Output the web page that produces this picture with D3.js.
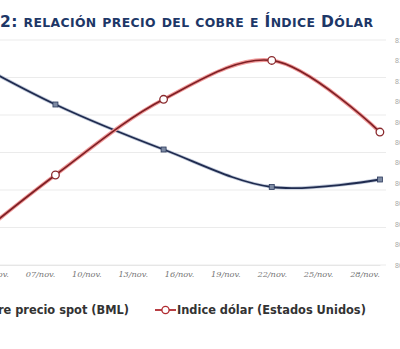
<!DOCTYPE html>
<html>
<head>
<meta charset="utf-8">
<script src="https://cdnjs.cloudflare.com/ajax/libs/d3/7.8.5/d3.min.js"></script>
<style>
  html, body { margin: 0; padding: 0; background: #fff; }
  svg { display: block; }
</style>
</head>
<body>
<div id="chart"></div>
<script>
// Weekly observations (Friday closes)
const fechas = ["2013-11-01", "2013-11-08", "2013-11-15", "2013-11-22", "2013-11-29"];
const cobre = [3.39, 3.314, 3.254, 3.204, 3.214];      // US$/lb, left axis
const dolar = [80.12, 80.54, 80.91, 81.10, 80.75];     // index, right axis

// Axis ticks
const fechasEje = ["2013-11-04", "2013-11-07", "2013-11-10", "2013-11-13", "2013-11-16",
                   "2013-11-19", "2013-11-22", "2013-11-25", "2013-11-28"];
const etiquetasFecha = ["04/nov.", "07/nov.", "10/nov.", "13/nov.", "16/nov.",
                        "19/nov.", "22/nov.", "25/nov.", "28/nov."];
const ticksCobre = [3.10, 3.15, 3.20, 3.25, 3.30, 3.35, 3.40];
const ticksDolar = [80.1, 80.2, 80.3, 80.4, 80.5, 80.6, 80.7, 80.8, 80.9, 81.0, 81.1, 81.2];

const titulo = "2: relación precio del cobre e Índice Dólar";
const serieCobre = "Cobre precio spot (BML)";
const serieDolar = "Indice dólar (Estados Unidos)";

const W = 400, H = 349;
const plot = { left: -52.7, right: 379.9, top: 40, bottom: 265, gridRight: 386 };

const parse = d3.timeParse("%Y-%m-%d");
const dias = fechas.map(parse);

const svg = d3.select("#chart").append("svg")
  .attr("width", W).attr("height", H)
  .style("font-family", "'DejaVu Sans', Verdana, sans-serif");

svg.append("rect").attr("width", W).attr("height", H).attr("fill", "#fff");

const x = d3.scaleTime()
  .domain([parse("2013-11-01"), parse("2013-11-29")])
  .range([plot.left, plot.right]);
const yL = d3.scaleLinear().domain([3.10, 3.40]).range([plot.bottom, plot.top]);
const yR = d3.scaleLinear().domain([80.1, 81.2]).range([plot.bottom, plot.top]);

// Title in small caps
const tTitle = svg.append("text")
  .attr("x", 0).attr("y", 27)
  .attr("fill", "#1d3767")
  .attr("font-weight", "bold");
{
  let runs = [];
  for (const ch of titulo) {
    const big = ch !== ch.toLowerCase() || /[0-9:]/.test(ch) || ch === " ";
    const last = runs[runs.length - 1];
    if (last && last.big === big) last.t += ch; else runs.push({ big, t: ch });
  }
  runs.forEach(r => tTitle.append("tspan")
    .attr("font-size", r.big ? 15.5 : 12.4)
    .text(r.big ? r.t : r.t.toUpperCase()));
}
// fit the title between the left edge and x = 373
{
  const w = tTitle.node().getComputedTextLength();
  if (Math.abs(w - 373) < 40) tTitle.attr("textLength", 373).attr("lengthAdjust", "spacing");
}

// Horizontal gridlines from the left (copper) axis
svg.append("g").selectAll("line").data(ticksCobre).join("line")
  .attr("x1", 0).attr("x2", plot.gridRight)
  .attr("y1", d => yL(d)).attr("y2", d => yL(d))
  .attr("stroke", "#ebebeb").attr("stroke-width", 1);

// Bottom date axis
const ax = d3.axisBottom(x)
  .tickValues(fechasEje.map(parse))
  .tickSize(0)
  .tickFormat((d, i) => etiquetasFecha[i]);
const gx = svg.append("g").attr("transform", `translate(0,${plot.bottom})`).call(ax);
gx.select(".domain").attr("stroke", "#e6e6e6");
gx.selectAll("text")
  .attr("dy", 0).attr("y", 11.5)
  .attr("fill", "#747474")
  .attr("font-size", 8.2)
  .attr("font-style", "italic")
  .attr("font-family", "'DejaVu Serif', serif");

// Right (dollar index) axis
const ar = d3.axisRight(yR).tickValues(ticksDolar).tickSize(0)
  .tickFormat(d => d3.format(".1f")(d).replace(".", ","));
const gr = svg.append("g").attr("transform", `translate(394,0)`).call(ar);
gr.select(".domain").remove();
gr.selectAll("text").attr("x", 1).attr("fill", "#a8a8a8").attr("font-size", 7);

// Series lines
const lineCobre = d3.line().x((d, i) => x(dias[i])).y(d => yL(d)).curve(d3.curveCatmullRom.alpha(0.5));
const lineDolar = d3.line().x((d, i) => x(dias[i])).y(d => yR(d)).curve(d3.curveCatmullRom.alpha(0.5));

svg.append("path").attr("d", lineCobre(cobre)).attr("fill", "none")
  .attr("stroke", "#c3cbdb").attr("stroke-width", 3.4);
svg.append("path").attr("d", lineCobre(cobre)).attr("fill", "none")
  .attr("stroke", "#1f2b4f").attr("stroke-width", 1.8);

svg.append("path").attr("d", lineDolar(dolar)).attr("fill", "none")
  .attr("stroke", "#f09a9a").attr("stroke-width", 3.8);
svg.append("path").attr("d", lineDolar(dolar)).attr("fill", "none")
  .attr("stroke", "#7e1f24").attr("stroke-width", 1.7);

// Markers
svg.append("g").selectAll("rect").data(cobre).join("rect")
  .attr("x", (d, i) => x(dias[i]) - 2.5).attr("y", d => yL(d) - 2.5)
  .attr("width", 5).attr("height", 5)
  .attr("fill", "#7d8aa3").attr("stroke", "#2c3a5c").attr("stroke-width", 0.8);

svg.append("g").selectAll("circle").data(dolar).join("circle")
  .attr("cx", (d, i) => x(dias[i])).attr("cy", d => yR(d)).attr("r", 3.8)
  .attr("fill", "#fff").attr("stroke", "#8a2a2e").attr("stroke-width", 1.3);

// Legend
const ly = 310;
const leg = svg.append("g").attr("font-size", 11.4).attr("font-weight", "bold").attr("fill", "#333");
leg.append("line").attr("x1", -50).attr("x2", -30).attr("y1", ly).attr("y2", ly)
  .attr("stroke", "#1f2b4f").attr("stroke-width", 1.8);
leg.append("rect").attr("x", -42.5).attr("y", ly - 2.5).attr("width", 5).attr("height", 5)
  .attr("fill", "#7d8aa3").attr("stroke", "#2c3a5c");
leg.append("text").attr("x", 129).attr("y", ly + 4).attr("text-anchor", "end").text(serieCobre);

leg.append("line").attr("x1", 155).attr("x2", 176).attr("y1", ly).attr("y2", ly)
  .attr("stroke", "#b02a2f").attr("stroke-width", 1.8);
leg.append("circle").attr("cx", 165.5).attr("cy", ly).attr("r", 3.6)
  .attr("fill", "#fff").attr("stroke", "#b02a2f").attr("stroke-width", 1.3);
leg.append("text").attr("x", 177).attr("y", ly + 4).text(serieDolar);
</script>
</body>
</html>
